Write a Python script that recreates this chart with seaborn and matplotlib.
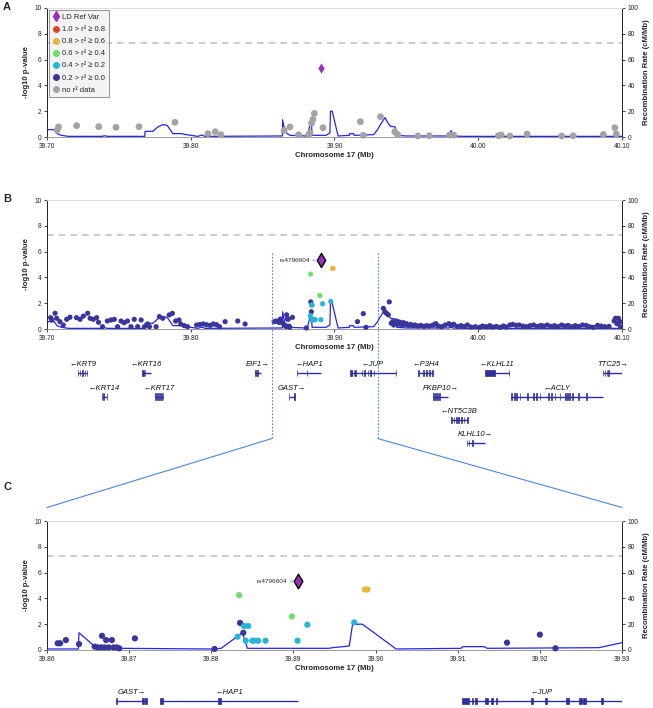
import matplotlib
matplotlib.use("Agg")
import numpy as np
import pandas as pd
import matplotlib.pyplot as plt
import seaborn as sns
from matplotlib.lines import Line2D
from matplotlib.patches import Rectangle

sns.set_style("ticks")
plt.rcParams['font.family'] = ['Liberation Sans', 'DejaVu Sans']

# ---------------- datos ----------------
ld_labels = ["LD Ref Var", "1.0 > r² ≥ 0.8", "0.8 > r² ≥ 0.6", "0.6 > r² ≥ 0.4",
             "0.4 > r² ≥ 0.2", "0.2 > r² ≥ 0.0", "no r² data"]
ld_colors = ['#9b30b8', '#d9452b', '#e8b53a', '#70dc6c', '#27b4d8', '#39359a', '#a3a3a3']

ref_name = "rs4796604"
ref_pos = 39.8906
ref_logp = 5.34

# panel A: sin datos de r2
a_pos = [39.7070, 39.7080, 39.7206, 39.7360, 39.7480, 39.7640, 39.7890, 39.8120, 39.8170,
         39.8210, 39.8650, 39.8690, 39.8750, 39.8820, 39.8830, 39.8840, 39.8850, 39.8860,
         39.8920, 39.9180, 39.9200, 39.9320, 39.9420, 39.9440, 39.9580, 39.9660, 39.9800,
         39.9830, 40.0140, 40.0160, 40.0220, 40.0340, 40.0580, 40.0660, 40.0870, 40.0950,
         40.0960]
a_logp = [0.52, 0.78, 0.88, 0.80, 0.75, 0.80, 1.14, 0.26, 0.41, 0.18, 0.52, 0.78, 0.18,
          0.18, 0.31, 1.06, 1.37, 1.83, 0.72, 1.19, 0.13, 1.58, 0.41, 0.18, 0.08, 0.10,
          0.15, 0.15, 0.10, 0.15, 0.08, 0.23, 0.08, 0.10, 0.20, 0.72, 0.23]

# paneles B y C
navy_pos = [39.7025, 39.7033, 39.7056, 39.7067, 39.7090, 39.7113, 39.7137, 39.7160, 39.7205,
            39.7230, 39.7253, 39.7283, 39.7300, 39.7322, 39.7345, 39.7358, 39.7386, 39.7420,
            39.7445, 39.7468, 39.7491, 39.7515, 39.7537, 39.7560, 39.7584, 39.7607, 39.7631,
            39.7655, 39.7678, 39.7700, 39.7713, 39.7759, 39.7782, 39.7805, 39.7850, 39.7872,
            39.7895, 39.7918, 39.7930, 39.7955, 39.7978,
            39.8041, 39.8065, 39.8088, 39.8110, 39.8135, 39.8157, 39.8180, 39.8200, 39.8239,
            39.8327, 39.8378, 39.8580, 39.8595,
            39.8613, 39.8616, 39.8623, 39.8639, 39.8658, 39.8662, 39.8666, 39.8667, 39.8670,
            39.8672, 39.8675, 39.8679, 39.8681, 39.8685, 39.8688, 39.8707, 39.8804, 39.8835,
            39.8839, 39.9160, 39.9200, 39.9219,
            39.9340, 39.9351, 39.9362, 39.9374, 39.9381, 39.9395, 39.9405, 39.9412, 39.9420,
            39.9430, 39.9440, 39.9448, 39.9455, 39.9465, 39.9472, 39.9480, 39.9490, 39.9500,
            39.9515, 39.9530, 39.9545, 39.9560, 39.9580, 39.9600, 39.9620, 39.9640, 39.9660,
            39.9685, 39.9705, 39.9720, 39.9745, 39.9770, 39.9795, 39.9810, 39.9830, 39.9855,
            39.9880, 39.9905, 39.9925, 39.9950, 39.9980, 40.0010, 40.0030, 40.0055, 40.0080,
            40.0100, 40.0125, 40.0150, 40.0175, 40.0195, 40.0220, 40.0240, 40.0265, 40.0285,
            40.0310, 40.0335, 40.0360, 40.0385, 40.0410, 40.0435, 40.0455, 40.0480, 40.0505,
            40.0530, 40.0555, 40.0580, 40.0600, 40.0625, 40.0650, 40.0675, 40.0700, 40.0725,
            40.0750, 40.0775, 40.0800, 40.0830, 40.0855, 40.0880, 40.0910, 40.0945, 40.0955,
            40.0965, 40.0975, 40.0985, 40.0990]
navy_logp = [0.88, 0.70, 1.22, 0.83, 0.57, 0.31, 0.75, 0.91, 0.88,
             0.75, 1.00, 1.22, 0.83, 0.75, 0.88, 0.52, 0.18, 0.62,
             0.70, 0.75, 0.18, 0.62, 0.49, 0.62, 0.18, 0.75, 0.18,
             0.70, 0.18, 0.39, 0.18, 0.18, 0.96, 0.83, 1.09, 1.21,
             0.62, 0.70, 0.39, 0.26, 0.18,
             0.31, 0.36, 0.39, 0.33, 0.28, 0.39, 0.33, 0.18, 0.57,
             0.62, 0.39, 0.57, 0.62,
             0.52, 0.52, 0.77, 0.46, 0.26, 0.20, 0.20, 1.10, 0.20,
             0.77, 0.20, 0.77, 0.20, 0.20, 0.13, 0.90, 0.08, 2.10,
             1.34, 0.57, 1.19, 0.13,
             1.60, 1.34, 1.21, 1.10, 2.10, 0.45, 0.57, 0.31, 0.49,
             0.62, 0.57, 0.36, 0.52, 0.45, 0.31, 0.49, 0.36, 0.41,
             0.28, 0.36, 0.26, 0.31, 0.23, 0.28, 0.20, 0.26, 0.23,
             0.31, 0.41, 0.23, 0.18, 0.31, 0.41, 0.28, 0.36, 0.20,
             0.26, 0.20, 0.31, 0.15, 0.18, 0.13, 0.23, 0.18, 0.26,
             0.15, 0.20, 0.13, 0.23, 0.15, 0.31, 0.36, 0.28, 0.31,
             0.23, 0.18, 0.26, 0.31, 0.20, 0.28, 0.23, 0.31, 0.20,
             0.26, 0.18, 0.31, 0.23, 0.28, 0.18, 0.26, 0.20, 0.31,
             0.28, 0.18, 0.13, 0.28, 0.23, 0.18, 0.20, 0.62, 0.83,
             0.41, 0.83, 0.57, 0.18]
cyan_pos = [39.8832, 39.8840, 39.8845, 39.8842, 39.8850, 39.8852, 39.8857, 39.8866, 39.8905,
            39.8917, 39.8974]
cyan_logp = [1.03, 1.86, 1.86, 0.72, 0.72, 0.72, 0.72, 0.72, 0.72, 1.96, 2.14]
green_pos = [39.8834, 39.8898]
green_logp = [4.25, 2.60]
gold_pos = [39.8987, 39.8990]
gold_logp = [4.69, 4.69]

# tasa de recombinacion (cM/Mb)
recomb_pos = [39.7000, 39.7050, 39.7070, 39.7100, 39.7150, 39.7385, 39.7400, 39.7420, 39.7680,
              39.7682, 39.7736, 39.7771, 39.7806, 39.7836, 39.7876, 39.7935, 39.7970, 39.8050,
              39.8075, 39.8100, 39.8638, 39.8639, 39.8656, 39.8689, 39.8800, 39.8812, 39.8838,
              39.8844, 39.8943, 39.8948, 39.8968, 39.8972, 39.8984, 39.9025, 39.9104, 39.9106,
              39.9132, 39.9136, 39.9272, 39.9300, 39.9316, 39.9351, 39.9375, 39.9391, 39.9422,
              39.9433, 39.9500, 39.9800, 39.9810, 39.9820, 39.9900, 40.1000]
recomb_rate = [5.7, 5.7, 2.6, 1.3, 0.5, 0.5, 1.0, 0.5, 0.5,
               4.4, 4.4, 7.8, 9.6, 9.0, 2.6, 2.6, 1.8, 0.5,
               1.5, 0.5, 0.8, 13.4, 3.9, 1.3, 0.8, 1.3, 13.4,
               1.3, 1.3, 1.8, 3.1, 20.0, 20.0, 0.8, 1.3, 2.6,
               2.6, 1.3, 1.8, 5.7, 9.0, 15.0, 10.3, 8.3, 7.8,
               1.3, 0.8, 0.8, 5.0, 0.8, 0.5, 0.5]

# genes
gene_names = ["KRT9", "KRT16", "KRT14", "KRT17", "EIF1", "HAP1", "GAST", "JUP", "P3H4",
              "KLHL11", "TTC25", "FKBP10", "ACLY", "NT5C3B", "KLHL10"]
gene_starts = [39.7214, 39.7659, 39.7380, 39.7751, 39.8447, 39.8737, 39.86845, 39.9105, 39.9580,
               40.0047, 40.0866, 39.9688, 40.0228, 39.9811, 39.9920]
gene_ends = [39.7280, 39.7721, 39.7420, 39.7809, 39.8487, 39.8906, 39.8722, 39.9428, 39.9688,
             40.0217, 40.0999, 39.9793, 40.0870, 39.9927, 40.0047]
gene_strand = [-1, -1, -1, -1, 1, -1, 1, -1, -1, -1, 1, 1, -1, -1, 1]
gene_row = [0, 0, 1, 1, 0, 0, 1, 0, 0, 0, 0, 1, 1, 2, 3]
gene_exons = [
    [(39.7214, 39.7218), (39.7228, 39.7232), (39.7246, 39.7250), (39.7262, 39.7266), (39.7276, 39.7280)],
    [(39.7659, 39.7675), (39.7679, 39.7681)],
    [(39.7380, 39.7386), (39.7392, 39.7396), (39.7414, 39.7420)],
    [(39.7751, 39.7755), (39.7765, 39.7769), (39.7780, 39.7784), (39.7794, 39.7798), (39.7805, 39.7809)],
    [(39.8447, 39.8455), (39.8463, 39.8468)],
    [(39.8737, 39.8741), (39.8808, 39.8812)],
    [(39.86845, 39.86855), (39.8716, 39.87185), (39.87195, 39.8722)],
    [(39.9105, 39.9114), (39.9117, 39.9119), (39.9121, 39.9123), (39.9133, 39.9137), (39.9141, 39.9143),
     (39.9146, 39.9148), (39.9189, 39.9192), (39.9206, 39.9209), (39.9232, 39.9235), (39.9248, 39.9251),
     (39.9253, 39.9256), (39.9274, 39.9277), (39.9426, 39.9428)],
    [(39.9580, 39.9590), (39.9615, 39.9620), (39.9637, 39.9642), (39.9657, 39.9662), (39.9679, 39.9688)],
    [(40.0047, 40.0116), (40.0214, 40.0217)],
    [(40.0866, 40.0869), (40.0880, 40.0884), (40.0893, 40.0897), (40.0906, 40.0910)],
    [(39.9688, 39.9691), (39.9700, 39.9704), (39.9716, 39.9720), (39.9728, 39.9732)],
    [(40.0228, 40.0236), (40.0250, 40.0254), (40.0266, 40.0270), (40.0289, 40.0293), (40.0340, 40.0344),
     (40.0382, 40.0386), (40.0405, 40.0409), (40.0428, 40.0432), (40.0486, 40.0490), (40.0509, 40.0513),
     (40.0533, 40.0537), (40.0568, 40.0572), (40.0603, 40.0608), (40.0617, 40.0622), (40.0632, 40.0638),
     (40.0650, 40.0658), (40.0695, 40.0699), (40.0753, 40.0757)],
    [(39.9811, 39.9815), (39.9828, 39.9832), (39.9845, 39.9849), (39.9862, 39.9866), (39.9880, 39.9884),
     (39.9900, 39.9904), (39.9922, 39.9927)],
    [(39.9920, 39.9923), (39.9933, 39.9936), (39.9958, 39.9961)],
]

ab_ticks = [39.70, 39.80, 39.90, 40.00, 40.10]
c_ticks = [39.86, 39.87, 39.88, 39.89, 39.90, 39.91, 39.92, 39.93]
zoom_range = (39.8565, 39.93)

# ---------------- tablas ----------------
pal = dict(zip(ld_labels, ld_colors))
df_a = pd.DataFrame({'pos': a_pos, 'logp': a_logp, 'ld': ld_labels[6]})
df_b = pd.concat([
    pd.DataFrame({'pos': navy_pos, 'logp': navy_logp, 'ld': ld_labels[5]}),
    pd.DataFrame({'pos': cyan_pos, 'logp': cyan_logp, 'ld': ld_labels[4]}),
    pd.DataFrame({'pos': green_pos, 'logp': green_logp, 'ld': ld_labels[3]}),
    pd.DataFrame({'pos': gold_pos, 'logp': gold_logp, 'ld': ld_labels[2]}),
], ignore_index=True)
df_ref = pd.DataFrame({'pos': [ref_pos], 'logp': [ref_logp]})
df_rec = pd.DataFrame({'pos': recomb_pos, 'rate': recomb_rate})

W, H = 653, 708
fig = plt.figure(figsize=(W / 100, H / 100), dpi=100)


def px_axes(left, top, right, bottom):
    return fig.add_axes([left / W, 1 - bottom / H, (right - left) / W, (bottom - top) / H])


GENE_COLOR = '#2f2f9c'
TICK_FS = 4.8
LAB_FS = 5.6


def region(ax, df, xlim, ticks, s, ref_s, ref_edge, label_ref):
    rax = ax.twinx()
    sns.lineplot(data=df_rec, x='pos', y='rate', ax=rax, color='#2525ee', lw=0.9,
                 estimator=None, sort=False)
    ax.set_zorder(rax.get_zorder() + 1)
    ax.patch.set_visible(False)
    ax.axhline(7.3, color='#c4c4c4', lw=1.2, dashes=(4, 3), zorder=1)
    # solo los puntos dentro de la ventana, sin recortar los que tocan el eje
    sub = df[(df['pos'] >= xlim[0]) & (df['pos'] <= xlim[1])]
    sns.scatterplot(data=sub, x='pos', y='logp', hue='ld', palette=pal, s=s, linewidth=0,
                    ax=ax, legend=False, zorder=3, clip_on=False)
    sns.scatterplot(data=df_ref, x='pos', y='logp', marker='d', s=ref_s, color=ld_colors[0],
                    edgecolor='black' if ref_edge else ld_colors[0],
                    linewidth=1.0 if ref_edge else 0, ax=ax, zorder=4)
    if label_ref:
        ax.annotate(ref_name, xy=(ref_pos, ref_logp), xytext=(-8, 0), textcoords='offset points',
                    ha='right', va='center', fontsize=4.6,
                    arrowprops=dict(arrowstyle='-', linestyle=(0, (1, 1)), lw=0.5, color='#333',
                                    shrinkA=0, shrinkB=4))
    ax.set_xlim(xlim)
    ax.set_ylim(0, 10)
    rax.set_ylim(0, 100)
    ax.set_xticks(ticks)
    ax.set_xticklabels([f"{t:.2f}" for t in ticks])
    ax.set_yticks([0, 2, 4, 6, 8, 10])
    rax.set_yticks([0, 20, 40, 60, 80, 100])
    ax.set_xlabel("Chromosome 17 (Mb)", fontsize=LAB_FS, fontweight='bold', labelpad=2)
    ax.set_ylabel("-log10 p-value", fontsize=LAB_FS, fontweight='bold', labelpad=3)
    rax.set_ylabel("Recombination Rate (cM/Mb)", fontsize=LAB_FS, fontweight='bold', labelpad=3)
    for a in (ax, rax):
        a.tick_params(labelsize=TICK_FS, length=2.5, width=0.6, pad=1.5, colors='#222')
    ax.spines['top'].set_color('#dddddd')
    ax.spines['bottom'].set_color('#9a9a9a')
    ax.spines['left'].set_color('#222222')
    ax.spines['right'].set_visible(False)
    for k in ('top', 'bottom', 'left'):
        rax.spines[k].set_visible(False)
    rax.spines['right'].set_visible(True)
    rax.spines['right'].set_color('#222222')
    for sp in list(ax.spines.values()) + list(rax.spines.values()):
        sp.set_linewidth(0.7)
    return rax


def genes(gax, xlim, rows):
    gax.set_xlim(xlim)
    gax.set_ylim(rows['ylim'])
    gax.axis('off')
    for name, st, en, strand, row, exons in zip(gene_names, gene_starts, gene_ends,
                                                 gene_strand, gene_row, gene_exons):
        if en < xlim[0] or st > xlim[1]:
            continue
        y = rows['y'][row] if rows['multi'] else rows['y'][0]
        lo, hi = max(st, xlim[0]), min(en, xlim[1])
        gax.plot([lo, hi], [y, y], color=GENE_COLOR, lw=1.0, solid_capstyle='butt')
        for e0, e1 in exons:
            gax.add_patch(Rectangle((e0, y - 3.2), e1 - e0, 6.4, facecolor=GENE_COLOR,
                                    edgecolor=GENE_COLOR, lw=0.5))
        lab = ("←" + name) if strand < 0 else (name + "→")
        gax.text((lo + hi) / 2, y - 8.5, lab, ha='center', va='center', fontsize=5.5,
                 fontstyle='italic', color='#111')


# ---------------- panel A ----------------
ax_a = px_axes(47, 8, 622, 137)
region(ax_a, df_a, (39.70, 40.10), ab_ticks, 24, 28, False, False)
handles = [Line2D([], [], ls='', marker='d', color=ld_colors[0], markersize=5.5)]
handles += [Line2D([], [], ls='', marker='o', color=c, markersize=4) for c in ld_colors[1:]]
leg = ax_a.legend(handles, ld_labels, loc='upper left', bbox_to_anchor=(0.003, 0.985),
                  borderaxespad=0, fontsize=5.5, frameon=True, fancybox=False,
                  handlelength=0.9, handletextpad=0.4, labelspacing=0.62, borderpad=0.5)
leg.get_frame().set_facecolor('#f1f1f1')
leg.get_frame().set_edgecolor('#666666')
leg.get_frame().set_linewidth(0.6)
leg.set_zorder(10)

# ---------------- panel B ----------------
ax_b = px_axes(47, 200, 622, 329)
region(ax_b, df_b, (39.70, 40.10), ab_ticks, 14, 52, True, True)
g_b = px_axes(47, 352, 622, 452)
genes(g_b, (39.70, 40.10), {'ylim': (452, 352), 'y': [373, 396.5, 420, 443], 'multi': True})

# ---------------- panel C ----------------
ax_c = px_axes(47, 521, 622, 650)
region(ax_c, df_b, (39.86, 39.93), c_ticks, 20, 55, True, True)
g_c = px_axes(47, 680, 622, 708)
genes(g_c, (39.86, 39.93), {'ylim': (708, 680), 'y': [701], 'multi': False})

# lineas de zoom
fig.canvas.draw()
inv = fig.transFigure.inverted()
xl = inv.transform(ax_b.transData.transform((zoom_range[0], 0)))[0]
xr = inv.transform(ax_b.transData.transform((zoom_range[1], 0)))[0]
y_top, y_bot, y_c = 1 - 253 / H, 1 - 438.5 / H, 1 - 507.5 / H
for xx, xe in ((xl, 47 / W), (xr, 622 / W)):
    fig.add_artist(Line2D([xx, xx], [y_top, y_bot], transform=fig.transFigure,
                          color='#4f86d9', lw=0.8, ls=(0, (1.5, 1.5))))
    fig.add_artist(Line2D([xx, xe], [y_bot, y_c], transform=fig.transFigure,
                          color='#4f86d9', lw=0.8))

for lab, yy in (("A", 2), ("B", 194), ("C", 482)):
    fig.text(3 / W, 1 - yy / H, lab, fontsize=8, fontweight='bold', va='top', ha='left')

fig.savefig("out.png", dpi=100)
